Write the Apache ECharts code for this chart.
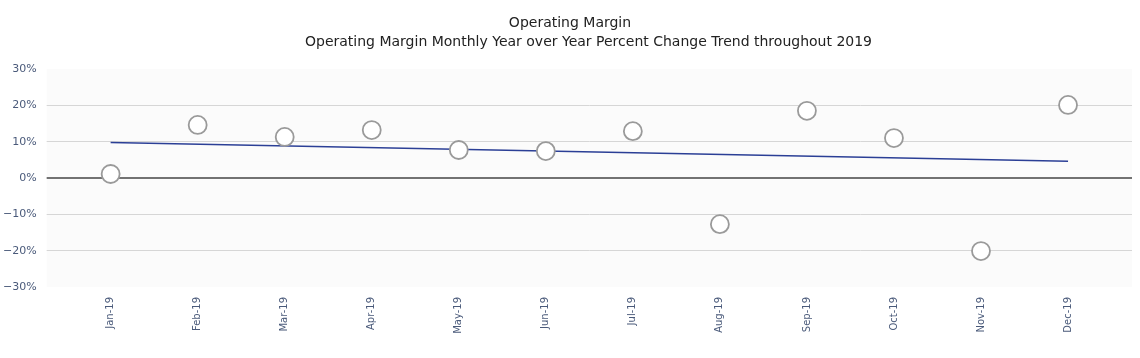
<!DOCTYPE html>
<html>
<head>
<meta charset="utf-8">
<script src="https://cdn.jsdelivr.net/npm/echarts@6/dist/echarts.min.js"></script>
<style>html,body{margin:0;padding:0;background:#fff}#c{width:1140px;height:358px}</style>
</head>
<body>
<div id="c"></div>
<script>
const months = ['Jan-19','Feb-19','Mar-19','Apr-19','May-19','Jun-19','Jul-19','Aug-19','Sep-19','Oct-19','Nov-19','Dec-19'];
const yoyChange = [1.1, 14.6, 11.3, 13.2, 7.7, 7.4, 12.9, -12.7, 18.5, 11.0, -20.1, 20.1];
const trendIdx = [0, 11];
const trendVals = [9.8, 4.6];
const titleText = 'Operating Margin';
const subtitleText = 'Operating Margin Monthly Year over Year Percent Change Trend throughout 2019';

const chart = echarts.init(document.getElementById('c'));
const font = 'DejaVu Sans, Verdana, sans-serif';
const lbl = '#4a5a7a';
chart.setOption({
  animation: false,
  title: [
    {text: titleText, left: 'center', top: 11,
     textStyle: {fontFamily: font, fontSize: 14, fontWeight: 'normal', color: '#222'}},
    {text: subtitleText, left: 300, top: 30,
     textStyle: {fontFamily: font, fontSize: 14, fontWeight: 'normal', color: '#222'}}
  ],
  grid: {left: 46, right: 8, top: 69, bottom: 71, show: true, backgroundColor: '#fbfbfb', borderWidth: 0},
  xAxis: {
    type: 'value', min: -0.735, max: 11.735,
    axisLine: {show: false}, axisTick: {show: false}, splitLine: {show: false},
    axisLabel: {
      rotate: 90, margin: 10, fontFamily: font, fontSize: 10, color: lbl,
      customValues: months.map((m, i) => i),
      formatter: v => months[Math.round(v)] || ''
    }
  },
  yAxis: {
    type: 'value', min: -30, max: 30, interval: 10,
    axisLine: {show: false}, axisTick: {show: false},
    axisLabel: {margin: 10, fontFamily: font, fontSize: 11, color: lbl,
      formatter: v => (v < 0 ? '\u2212' + Math.abs(v) : v) + '%'},
    splitLine: {lineStyle: {width: 1, color: ['transparent','#d6d6d6','#d6d6d6','transparent','#d6d6d6','#d6d6d6','transparent']}}
  },
  series: [
    {
      type: 'line', data: trendIdx.map((x, i) => [x, trendVals[i]]),
      symbol: 'none', lineStyle: {color: '#2b3f96', width: 1.5}, z: 3
    },
    {
      type: 'scatter', data: yoyChange.map((v, i) => [i, v]),
      symbolSize: 18,
      itemStyle: {color: '#fff', borderColor: '#9a9a9a', borderWidth: 1.8, opacity: 1},
      z: 4,
      markLine: {
        silent: true, symbol: 'none', label: {show: false},
        lineStyle: {color: '#444', width: 1.5, type: 'solid'},
        data: [{yAxis: 0}], z: 2
      }
    }
  ]
});
</script>
</body>
</html>
